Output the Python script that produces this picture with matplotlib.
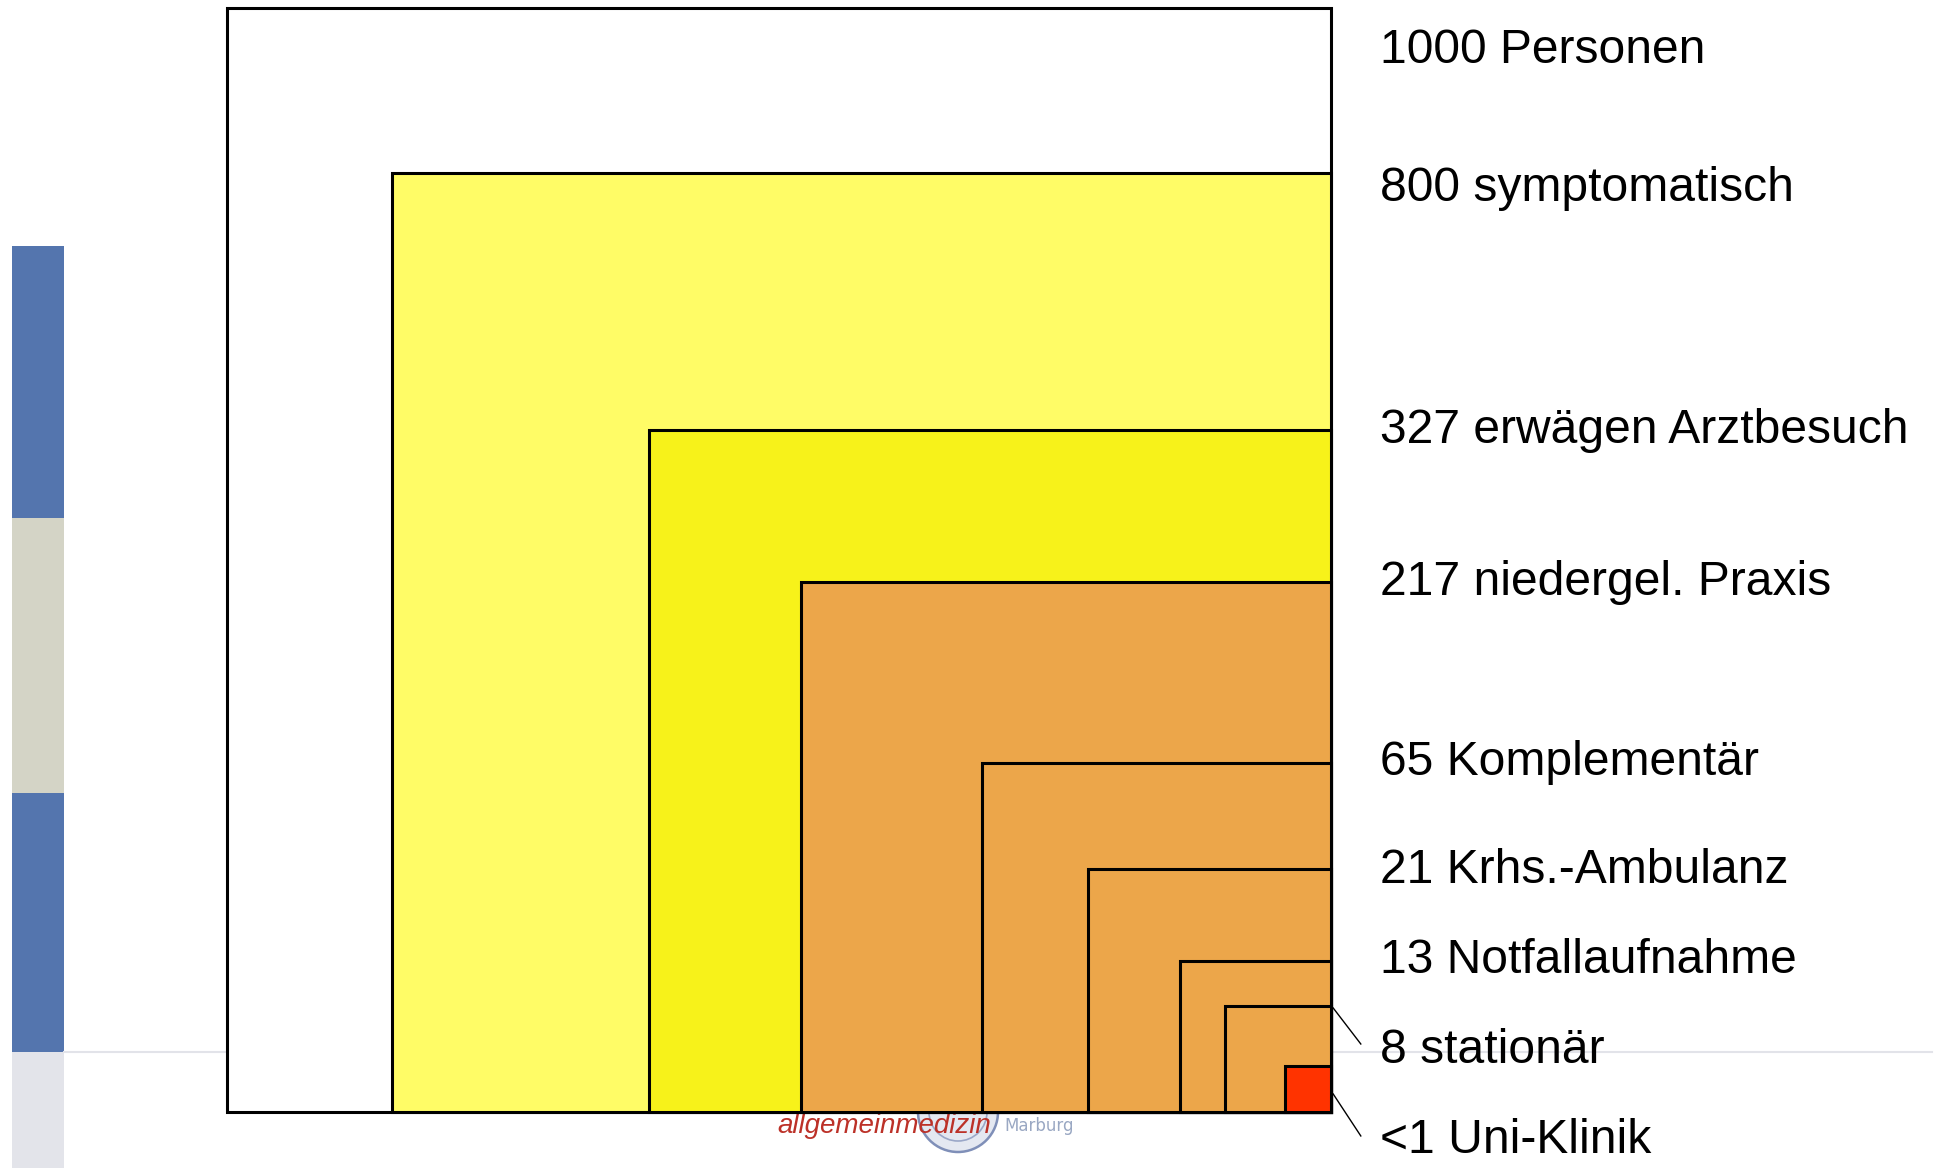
import matplotlib.pyplot as plt
from matplotlib.patches import Rectangle, Circle

# nested squares, anchored bottom-right; side = share of the outer square
labels = ['1000 Personen', '800 symptomatisch', '327 erwägen Arztbesuch',
          '217 niedergel. Praxis', '65 Komplementär', '21 Krhs.-Ambulanz',
          '13 Notfallaufnahme', '8 stationär', '<1 Uni-Klinik']
sides = [1.0, 0.8505, 0.6178, 0.4801, 0.3161, 0.2201, 0.1368, 0.0960, 0.0417]
colors = ['#FFFFFF', '#FFFC66', '#F7F21A', '#ECA64A', '#ECA64A',
          '#ECA64A', '#ECA64A', '#ECA64A', '#FF3300']
# label baselines (axes units, outer square = 0..1)
label_y = [0.9502, 0.8252, 0.6060, 0.4683, 0.3053, 0.2075, 0.1259, 0.0444, -0.0371]

W, H = 1939, 1168
fig = plt.figure(figsize=(W / 100, H / 100), dpi=100)

# slide decoration in pixel space
bg = fig.add_axes([0, 0, 1, 1])
bg.set_xlim(0, W)
bg.set_ylim(H, 0)
bg.axis('off')
for y0, y1, c in [(246, 518, '#5475AE'), (518, 793, '#D4D4C6'),
                  (793, 1052, '#5475AE'), (1052, 1168, '#E3E4EA')]:
    bg.add_patch(Rectangle((12, y0), 52, y1 - y0, color=c, lw=0))
bg.plot([64, 1932], [1052, 1052], color='#E2E3E9', lw=1.5)
bg.add_patch(Circle((958, 1112), 40, facecolor='#E4E8F1', edgecolor='#7F8FB8', lw=1.8))
bg.add_patch(Circle((958, 1112), 29, facecolor='none', edgecolor='#9AA7C8', lw=1.2))
bg.text(777, 1133, 'allgemeinmedizin', color='#BC3128', fontsize=20,
        style='italic', family='Liberation Sans', va='baseline')
bg.text(1004, 1131, 'Marburg', color='#9AA8C3', fontsize=12,
        family='DejaVu Sans', va='baseline')

ax = fig.add_axes([227 / W, 56 / H, 1104 / W, 1104 / H])
ax.set_xlim(0, 1)
ax.set_ylim(0, 1)
ax.axis('off')
ax.patch.set_visible(False)

for s, c in zip(sides, colors):
    ax.add_patch(Rectangle((1 - s, 0), s, s, facecolor=c, edgecolor='black',
                           lw=2.2, clip_on=False))

for lab, y in zip(labels, label_y):
    ax.text(1.0445, y, lab, fontsize=34.6, family='Liberation Sans',
            va='baseline', ha='left', clip_on=False)

# leader lines for the two smallest boxes
ax.plot([1.002, 1.027], [0.0942, 0.0616], color='black', lw=1, clip_on=False)
ax.plot([1.002, 1.027], [0.0163, -0.0217], color='black', lw=1, clip_on=False)

fig.savefig('out.png', dpi=100)
